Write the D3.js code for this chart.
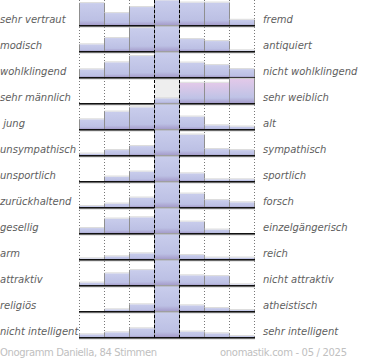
<!DOCTYPE html>
<html lang="de">
<head>
    <meta charset="UTF-8">
    <title>Onogramm Daniella</title>
    <script src="https://d3js.org/d3.v7.min.js"></script>
    <style>
        body {
            margin: 0;
            background: #fff;
        }
        text {
            font-family: "DejaVu Sans", Verdana, sans-serif;
        }
        .lbl {
            font-size: 10px;
            font-style: italic;
            fill: #5e5e5e;
            white-space: pre;
        }
        .foot {
            font-size: 10px;
            fill: #c0c0c0;
        }
    </style>
</head>
<body>
<svg id="viz"></svg>
<script>
    var leftLabels = ["sehr vertraut", "modisch", "wohlklingend", "sehr männlich", " jung",
        "unsympathisch", "unsportlich", "zurückhaltend", "gesellig", "arm",
        "attraktiv", "religiös", "nicht intelligent"];
    var rightLabels = ["fremd", "antiquiert", "nicht wohlklingend", "sehr weiblich", "alt",
        "sympathisch", "sportlich", "forsch", "einzelgängerisch", "reich",
        "nicht attraktiv", "atheistisch", "sehr intelligent"];
    // share of votes per step, 100 = full row height (the middle column is cut off)
    var values = [
        [89, 49, 73, 100, 91, 91, 22],
        [28, 53, 93, 100, 49, 41, 4],
        [32, 60, 85, 100, 59, 49, 33],
        [0, 0, 0, 20, 82, 82, 98],
        [40, 71, 88, 100, 51, 16, 11],
        [7, 21, 37, 100, 83, 25, 21],
        [0, 19, 39, 100, 32, 8, 8],
        [5, 15, 39, 100, 55, 29, 20],
        [21, 59, 64, 100, 47, 15, 0],
        [4, 12, 24, 100, 17, 7, 7],
        [11, 48, 61, 100, 40, 37, 4],
        [0, 8, 28, 100, 24, 13, 5],
        [12, 20, 36, 100, 23, 16, 5]
    ];
    var genderRow = 3;
    var footLeft = "Onogramm Daniella, 84 Stimmen";
    var footRight = "onomastik.com - 05 / 2025";

    var width = 370, height = 360;
    var rowH = 26, barMax = 25;
    var steps = d3.range(7);

    var svg = d3.select("#viz")
        .attr("width", width)
        .attr("height", height);

    var defs = svg.append("defs");
    var g1 = defs.append("linearGradient").attr("id", "blue")
        .attr("x1", 0).attr("y1", 0).attr("x2", 0).attr("y2", 1);
    g1.append("stop").attr("offset", "0%").attr("stop-color", "#c9cdec");
    g1.append("stop").attr("offset", "78%").attr("stop-color", "#bcc0e4");
    g1.append("stop").attr("offset", "100%").attr("stop-color", "#a49bca");
    var g2 = defs.append("linearGradient").attr("id", "pink")
        .attr("x1", 0).attr("y1", 0).attr("x2", 0).attr("y2", 1);
    g2.append("stop").attr("offset", "0%").attr("stop-color", "#e3c9e9");
    g2.append("stop").attr("offset", "75%").attr("stop-color", "#bfc3e6");
    g2.append("stop").attr("offset", "100%").attr("stop-color", "#a49bca");

    var xScale = d3.scaleBand()
        .domain(steps)
        .range([79.5, 254.5]);
    var yScale = d3.scaleBand()
        .domain(d3.range(leftLabels.length))
        .range([0.3, 0.3 + rowH * leftLabels.length]);
    var hScale = d3.scaleLinear()
        .domain([0, 100])
        .range([0, barMax]);

    function base(i) {
        return yScale(i) + barMax;
    }
    var bottom = base(leftLabels.length - 1);

    // dotted grid
    svg.append("g").selectAll("line")
        .data(d3.range(8))
        .enter().append("line")
        .attr("x1", function (d) { return d < 7 ? xScale(d) : xScale(6) + xScale.bandwidth(); })
        .attr("x2", function (d) { return d < 7 ? xScale(d) : xScale(6) + xScale.bandwidth(); })
        .attr("y1", 0)
        .attr("y2", bottom)
        .attr("stroke", "#777")
        .attr("stroke-width", 1)
        .attr("stroke-dasharray", "1,2");

    // grey background of the middle field in the gender row
    svg.append("rect")
        .attr("x", xScale(3))
        .attr("y", base(genderRow) - barMax)
        .attr("width", xScale.bandwidth())
        .attr("height", barMax)
        .attr("fill", "#eeeeee");

    var rows = svg.append("g").selectAll("g")
        .data(values)
        .enter().append("g")
        .attr("transform", function (d, i) { return "translate(0," + base(i) + ")"; });

    var bars = rows.selectAll("g")
        .data(function (d, i) {
            return d.map(function (v, j) { return {v: v, j: j, row: i}; });
        })
        .enter().append("g")
        .filter(function (d) { return d.v > 0; });

    bars.append("rect")
        .attr("x", function (d) { return xScale(d.j); })
        .attr("y", function (d) { return -hScale(d.v); })
        .attr("width", xScale.bandwidth())
        .attr("height", function (d) { return hScale(d.v); })
        .attr("fill", function (d) { return d.row === genderRow && d.j > 3 ? "url(#pink)" : "url(#blue)"; });
    // light top edge
    bars.append("line")
        .attr("x1", function (d) { return xScale(d.j); })
        .attr("x2", function (d) { return xScale(d.j) + xScale.bandwidth(); })
        .attr("y1", function (d) { return -hScale(d.v) - 0.5; })
        .attr("y2", function (d) { return -hScale(d.v) - 0.5; })
        .attr("stroke", "#dcdcdc");
    // grey side edges
    bars.append("path")
        .attr("d", function (d) {
            var x0 = xScale(d.j), x1 = x0 + xScale.bandwidth(), h = hScale(d.v);
            return "M" + x0 + ",0V" + (-h) + "M" + x1 + ",0V" + (-h);
        })
        .attr("fill", "none")
        .attr("stroke", "#8f8f8f")
        .attr("stroke-width", 1);

    // baselines
    rows.append("line")
        .attr("x1", 79)
        .attr("x2", 255)
        .attr("y1", 1.5)
        .attr("y2", 1.5)
        .attr("stroke", "#aaa")
        .attr("stroke-width", 1);
    rows.append("line")
        .attr("x1", 79)
        .attr("x2", 255)
        .attr("y1", 0.5)
        .attr("y2", 0.5)
        .attr("stroke", "#111")
        .attr("stroke-width", 1.6);

    // dashed middle lines
    svg.append("g").selectAll("line")
        .data([3, 4])
        .enter().append("line")
        .attr("x1", function (d) { return xScale(d); })
        .attr("x2", function (d) { return xScale(d); })
        .attr("y1", 0)
        .attr("y2", bottom + 2)
        .attr("stroke", "#000")
        .attr("stroke-width", 1)
        .attr("stroke-dasharray", "3,2");

    // labels
    svg.append("g").selectAll("text")
        .data(leftLabels)
        .enter().append("text")
        .attr("class", "lbl")
        .attr("x", 0)
        .attr("y", function (d, i) { return base(i) - 2.5; })
        .text(function (d) { return d; });
    svg.append("g").selectAll("text")
        .data(rightLabels)
        .enter().append("text")
        .attr("class", "lbl")
        .attr("x", 263)
        .attr("y", function (d, i) { return base(i) - 2.5; })
        .text(function (d) { return d; });

    svg.append("text")
        .attr("class", "foot")
        .attr("x", 0)
        .attr("y", 355.5)
        .attr("textLength", 157)
        .attr("lengthAdjust", "spacing")
        .text(footLeft);
    svg.append("text")
        .attr("class", "foot")
        .attr("x", 220)
        .attr("y", 355.5)
        .attr("textLength", 127)
        .attr("lengthAdjust", "spacing")
        .text(footRight);
</script>
</body>
</html>
